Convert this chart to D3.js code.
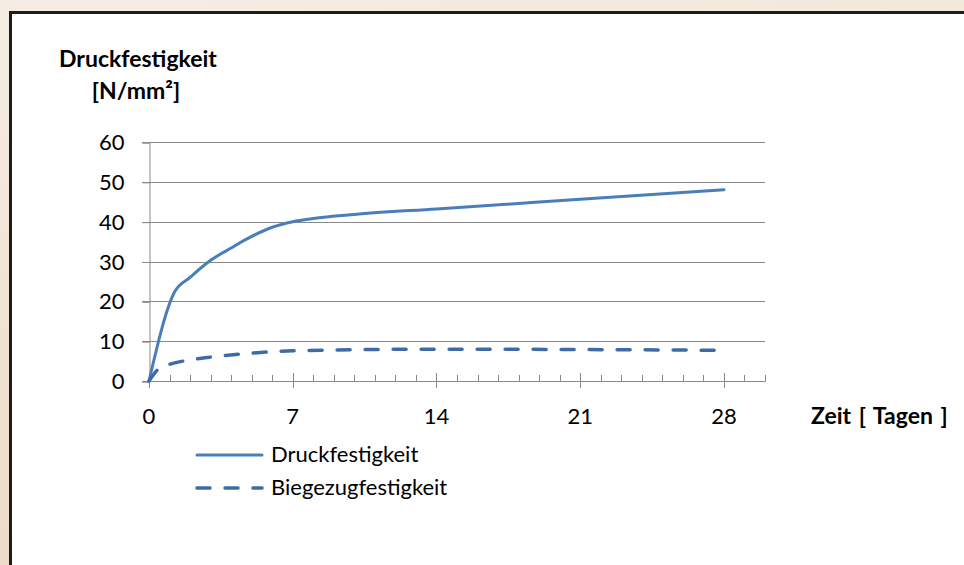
<!DOCTYPE html>
<html>
<head>
<meta charset="utf-8">
<script src="https://cdn.jsdelivr.net/npm/d3@7"></script>
<style>
  html, body { margin: 0; padding: 0; }
  body { width: 964px; height: 565px; overflow: hidden; }
  text { font-family: Lato, "Open Sans", sans-serif; fill: #000; }
</style>
</head>
<body>
<script>
// data
const days_druck = [0, 1.25, 2, 3, 4, 5, 6, 7, 8, 10, 14, 21, 28];
const druck      = [0, 22.4, 26, 30.3, 33.4, 36.3, 38.6, 40, 40.8, 41.8, 43.2, 45.6, 48];
const days_biege = [0, 0.5, 1, 2, 3, 5, 7, 14, 21, 28];
const biege      = [0, 3.2, 4.2, 5.3, 6, 7, 7.6, 8, 7.9, 7.7];
const xTicks = [0, 7, 14, 21, 28];
const yTicks = [0, 10, 20, 30, 40, 50, 60];
const seriesNames = ['Druckfestigkeit', 'Biegezugfestigkeit'];

const width = 964, height = 565;

const svg = d3.select('body').append('svg')
    .attr('width', width)
    .attr('height', height);

// beige backdrop
const grad = svg.append('defs').append('linearGradient')
    .attr('id', 'bg').attr('x1', 0).attr('y1', 0).attr('x2', 0.3).attr('y2', 1);
grad.append('stop').attr('offset', '0%').attr('stop-color', '#f5ede4');
grad.append('stop').attr('offset', '100%').attr('stop-color', '#ecdac6');
svg.append('rect').attr('width', width).attr('height', height).attr('fill', 'url(#bg)');

// white panel
svg.append('rect')
    .attr('x', 10.5).attr('y', 12.5)
    .attr('width', width).attr('height', height)
    .attr('fill', '#fff')
    .attr('stroke', '#1c1c1c')
    .attr('stroke-width', 3);

const xScale = d3.scaleLinear().domain([0, 30]).range([149, 765]);
const yScale = d3.scaleLinear().domain([0, 60]).range([381, 142]);

// horizontal gridlines
svg.append('g')
    .selectAll('line')
    .data(yTicks.filter(d => d > 0))
    .enter().append('line')
    .attr('x1', 142).attr('x2', 765)
    .attr('y1', d => Math.round(yScale(d)) + 0.5)
    .attr('y2', d => Math.round(yScale(d)) + 0.5)
    .attr('stroke', '#898989')
    .attr('stroke-width', 1);

// y axis
const yAxis = svg.append('g')
    .attr('class', 'y axis')
    .attr('transform', 'translate(149.5,0.5)')
    .call(d3.axisLeft(yScale).tickValues(yTicks).tickSize(7).tickPadding(18));
yAxis.select('.domain').attr('stroke', '#898989');
yAxis.selectAll('.tick line').attr('stroke', '#898989');
yAxis.selectAll('.tick text')
    .attr('font-size', '22px')
    .attr('font-family', 'Lato, sans-serif')
    .attr('fill', '#000');

// x axis: minor ticks every day (upward), major every 7 (crossing)
const xAxisG = svg.append('g').attr('class', 'x axis');
xAxisG.append('line')
    .attr('x1', 142).attr('x2', 765)
    .attr('y1', 381.5).attr('y2', 381.5)
    .attr('stroke', '#898989');
xAxisG.selectAll('line.minor')
    .data(d3.range(0, 31))
    .enter().append('line')
    .attr('class', 'minor')
    .attr('x1', d => Math.round(xScale(d)) + 0.5)
    .attr('x2', d => Math.round(xScale(d)) + 0.5)
    .attr('y1', 375).attr('y2', 381.5)
    .attr('stroke', '#898989');
xAxisG.selectAll('line.major')
    .data(xTicks)
    .enter().append('line')
    .attr('class', 'major')
    .attr('x1', d => Math.round(xScale(d)) + 0.5)
    .attr('x2', d => Math.round(xScale(d)) + 0.5)
    .attr('y1', 373).attr('y2', 388)
    .attr('stroke', '#898989');
xAxisG.selectAll('text')
    .data(xTicks)
    .enter().append('text')
    .attr('x', d => xScale(d))
    .attr('y', 424)
    .attr('text-anchor', 'middle')
    .attr('font-size', '22px')
    .text(d => d);

// lines
const line = d3.line()
    .x(d => xScale(d[0]))
    .y(d => yScale(d[1]))
    .curve(d3.curveMonotoneX);

svg.append('path')
    .datum(days_druck.map((d, i) => [d, druck[i]]))
    .attr('fill', 'none')
    .attr('stroke', '#4a7ebb')
    .attr('stroke-width', 3)
    .attr('stroke-linejoin', 'round')
    .attr('stroke-linecap', 'round')
    .attr('d', line);

svg.append('path')
    .datum(days_biege.map((d, i) => [d, biege[i]]))
    .attr('fill', 'none')
    .attr('stroke', '#3e6ba5')
    .attr('stroke-width', 3.5)
    .attr('stroke-dasharray', '13,15')
    .attr('stroke-linecap', 'round')
    .attr('d', line);

// axis titles
svg.append('text')
    .attr('x', 138).attr('y', 67)
    .attr('text-anchor', 'middle')
    .attr('font-size', '23px').attr('font-weight', 'bold')
    .text('Druckfestigkeit');
svg.append('text')
    .attr('x', 136).attr('y', 99)
    .attr('text-anchor', 'middle')
    .attr('font-size', '23px').attr('font-weight', 'bold')
    .text('[N/mm²]');
svg.append('text')
    .attr('x', 811).attr('y', 424)
    .attr('font-size', '23px').attr('font-weight', 'bold')
    .attr('word-spacing', '2px')
    .text('Zeit [ Tagen ]');

// legend
const legend = svg.append('g').selectAll('g')
    .data(seriesNames)
    .enter().append('g')
    .attr('transform', (d, i) => 'translate(0,' + (455 + i * 33) + ')');
legend.append('line')
    .attr('x1', 197).attr('x2', 262)
    .attr('y1', 0).attr('y2', 0)
    .attr('stroke', (d, i) => i === 0 ? '#4a7ebb' : '#3e6ba5')
    .attr('stroke-width', (d, i) => i === 0 ? 3 : 3.5)
    .attr('stroke-linecap', 'round')
    .attr('stroke-dasharray', (d, i) => i === 0 ? null : '13,15');
legend.append('text')
    .attr('x', 271).attr('y', 7)
    .attr('font-size', '22px')
    .text(d => d);
</script>
</body>
</html>
